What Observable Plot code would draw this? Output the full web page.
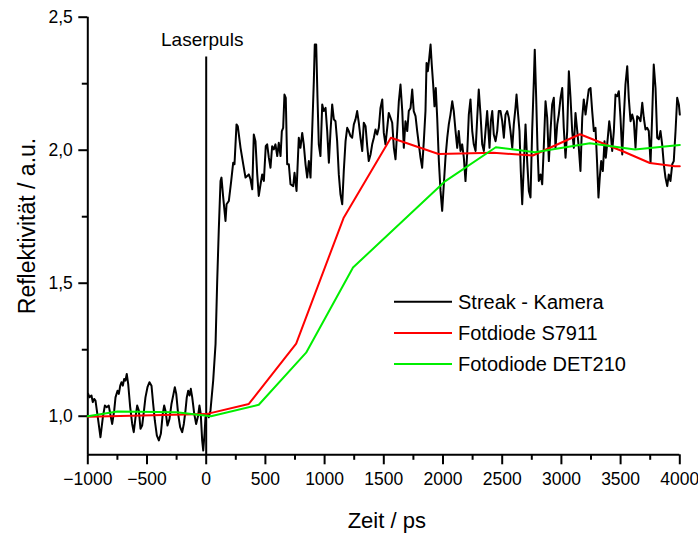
<!DOCTYPE html>
<html><head><meta charset="utf-8">
<script src="https://cdn.jsdelivr.net/npm/d3@7"></script>
<script src="https://cdn.jsdelivr.net/npm/@observablehq/plot@0.6"></script>
<style>body{margin:0;background:#fff}</style>
</head><body><div id="chart"></div>
<script>
// ---- data ----
const streakTime = [-997,-986,-969,-958,-946,-935,-912,-893,-873,-856,-840,-823,-808,-794,-777,-766,-749,-738,-726,-715,-704,-693,-682,-671,-659,-642,-625,-612,-597,-583,-569,-555,-541,-527,-513,-496,-479,-462,-448,-434,-417,-400,-383,-367,-355,-344,-327,-310,-293,-276,-265,-253,-237,-220,-203,-189,-175,-164,-152,-141,-130,-118,-101,-85,-68,-57,-46,-34,-25,-14,-6,
8,22,36,59,79,93,106,121,129,144,163,172,191,211,228,239,256,267,290,313,332,360,374,389,402,416,431,444,459,473,487,503,515,529,543,557,571,585,600,613,628,639,650,661,672,684,698,712,735,746,763,782,796,811,824,839,853,867,881,895,909,917,929,940,951,965,980,993,
1008,1022,1036,1050,1064,1078,1092,1106,1120,1134,1149,1162,1177,1191,1204,1219,1233,1247,1261,1275,1289,1303,1318,1331,1346,1360,1373,1388,1402,1416,1430,1444,1458,1472,1487,1500,1514,1529,1542,1557,1571,1585,1599,1613,1627,1641,1656,1669,1683,1698,1711,1726,1740,1753,1768,1782,1796,1810,1824,1838,1852,1861,1872,1884,1895,1905,1917,1928,1939,1951,1965,1979,1993,
2007,2021,2036,2049,2063,2078,2091,2106,2120,2133,2148,2162,2176,2190,2204,2218,2232,2247,2260,2275,2289,2302,2317,2331,2345,2359,2373,2393,2404,2416,2429,2444,2458,2471,2486,2500,2514,2528,2542,2556,2570,2585,2598,2612,2621,2632,2646,2657,2669,2683,2697,2711,2725,2739,2753,2767,2775,2787,2798,2809,2824,2838,2851,2866,2880,2894,2908,2922,2936,2950,2965,2978,2993,
3007,3020,3035,3049,3063,3077,3091,3105,3119,3134,3147,3161,3176,3189,3204,3218,3231,3246,3260,3274,3288,3302,3313,3324,3336,3350,3364,3375,3392,3404,3415,3429,3443,3457,3471,3485,3499,3514,3527,3541,3556,3569,3584,3598,3612,3626,3640,3654,3668,3683,3696,3710,3725,3738,3753,3767,3780,3795,3809,3823,3837,3851,3865,3879,3894,3907,3921,3936,3949,3964,3978,3992,4000];
const streakValue = [1.084,1.071,1.078,1.053,1.065,1.059,0.984,0.921,0.996,1.040,1.034,1.040,1.003,0.971,1.021,1.071,1.096,1.084,1.115,1.128,1.115,1.140,1.134,1.159,1.122,1.034,0.971,0.940,0.996,1.040,1.021,0.953,0.965,1.015,1.071,1.109,1.128,1.115,1.047,0.984,0.928,0.909,0.934,1.009,1.040,1.021,0.965,0.990,1.047,1.084,1.109,1.084,1.009,0.959,0.940,0.971,1.021,1.071,1.096,1.078,1.103,1.071,1.009,0.971,1.003,1.040,1.009,0.909,0.871,0.934,0.996,
1.009,0.996,1.021,1.134,1.272,1.509,1.697,1.884,1.897,1.821,1.734,1.797,1.809,1.884,1.953,1.947,2.097,2.090,2.009,1.947,1.897,1.909,1.891,1.853,2.059,2.034,1.909,1.828,1.872,1.909,1.884,2.015,2.022,1.972,1.934,2.015,2.003,2.022,1.978,2.028,1.978,2.072,2.084,2.209,2.197,1.947,1.947,1.872,1.865,1.915,1.847,2.047,2.009,2.065,2.022,1.947,1.897,1.959,1.897,2.072,2.259,2.397,2.397,2.197,2.022,1.978,2.172,2.147,
2.159,2.072,1.953,2.072,2.172,2.116,2.109,2.034,1.909,1.834,1.797,1.922,2.034,2.084,2.072,2.053,2.047,2.097,2.116,2.147,2.103,2.047,1.997,2.103,2.090,2.015,1.959,1.984,2.022,2.047,2.078,2.059,2.084,2.159,2.191,2.065,2.022,2.084,2.140,2.122,2.103,2.009,1.966,2.072,2.184,2.247,2.147,2.009,2.109,2.072,2.147,2.159,2.228,2.147,2.128,2.072,2.022,1.972,1.934,2.034,2.147,2.328,2.297,2.347,2.397,2.322,2.247,2.165,2.234,2.122,1.959,1.847,1.772,
1.872,1.972,2.047,2.097,2.134,2.184,2.147,2.072,2.009,2.072,1.997,2.022,1.972,1.884,1.984,2.134,2.191,2.072,2.022,1.997,2.122,2.228,2.134,2.022,1.997,2.072,2.147,2.009,2.109,2.147,2.059,2.034,2.072,2.147,2.147,2.109,2.047,2.134,2.147,2.122,2.072,2.009,2.097,2.159,2.209,2.147,2.072,1.922,1.797,1.947,2.097,1.959,1.847,1.822,2.072,2.259,2.378,2.197,2.009,1.884,1.909,1.872,2.009,2.184,2.122,1.959,2.072,2.172,2.197,2.009,2.097,2.134,2.197,
2.234,2.084,1.972,2.072,2.297,2.197,2.072,2.009,2.140,2.072,2.009,1.922,2.122,2.191,2.134,2.184,2.228,2.234,2.147,2.072,2.084,1.947,1.822,1.897,1.959,1.922,2.034,1.972,2.047,2.109,2.072,1.997,2.072,2.209,2.203,2.222,2.122,1.984,2.122,2.247,2.316,2.197,2.109,2.134,2.109,2.009,2.128,2.122,2.109,2.178,2.122,2.078,2.084,2.072,1.953,2.134,2.322,2.234,2.047,2.041,2.072,2.022,1.947,1.897,1.865,1.909,1.884,1.947,1.959,2.072,2.197,2.172,2.134];

const s7911Time  = [-1000, 0, 360, 760, 1160, 1560, 1962, 2426, 2758, 3157, 3523, 3747, 3958, 4000];
const s7911Value = [0.998, 1.008, 1.046, 1.273, 1.745, 2.047, 1.986, 1.990, 1.980, 2.060, 1.995, 1.952, 1.940, 1.940];

const det210Time  = [-1000, -750, -250, 40, 444, 844, 1240, 2020, 2446, 2777, 3241, 3621, 4000];
const det210Value = [1.000, 1.018, 1.015, 1.000, 1.043, 1.239, 1.559, 1.884, 2.011, 1.992, 2.026, 2.003, 2.020];

const laserTime = [0];
const laserTop = 2.35;
const laserLabel = "Laserpuls";

const seriesNames = ["Streak - Kamera", "Fotdiode S7911", "Fotodiode DET210"];
const seriesColors = ["#000000", "#ff0000", "#00ee00"];

const xDomain = [-1000, 4000];
const yDomain = [0.855, 2.5];
const xTicks = [-1000, -500, 0, 500, 1000, 1500, 2000, 2500, 3000, 3500, 4000];
const xMinorTicks = [-750, -250, 250, 750, 1250, 1750, 2250, 2750, 3250, 3750];
const yTicks = [1.0, 1.5, 2.0, 2.5];
const yMinorTicks = [1.25, 1.75, 2.25];
const xTitle = "Zeit / ps";
const yTitle = "Reflektivität / a.u.";

// ---- tables ----
const streak = streakTime.map((t, i) => ({t, v: streakValue[i]}));
const s7911 = s7911Time.map((t, i) => ({t, v: s7911Value[i]}));
const det210 = det210Time.map((t, i) => ({t, v: det210Value[i]}));

const fmtY = d => d.toFixed(1).replace(".", ",");
const font = "'Liberation Sans', Arial, sans-serif";

const svg = Plot.plot({
  width: 698, height: 536,
  marginLeft: 87.3, marginRight: 18.7, marginTop: 16.7, marginBottom: 81.7,
  style: {fontFamily: font, color: "black", background: "white", overflow: "visible"},
  x: {domain: xDomain},
  y: {domain: yDomain},
  marks: [
    Plot.axisX(xTicks, {tickSize: 10, tickPadding: 8, fontSize: 17.5, strokeWidth: 2, label: null, tickFormat: d => d3.format("")(d).replace("-", "\u2212")}),
    Plot.axisX(xMinorTicks, {tickSize: 5.5, strokeWidth: 2, label: null, tickFormat: () => ""}),
    Plot.axisY(yTicks, {tickSize: 9, tickPadding: 6, fontSize: 17.5, strokeWidth: 2, label: null, tickFormat: fmtY}),
    Plot.axisY(yMinorTicks, {tickSize: 5.5, strokeWidth: 2, label: null, tickFormat: () => ""}),
    Plot.ruleX([xDomain[0]], {stroke: "black", strokeWidth: 2}),
    Plot.ruleY([yDomain[0]], {stroke: "black", strokeWidth: 2}),
    Plot.ruleX(laserTime, {y1: laserTop, y2: yDomain[0], stroke: "black", strokeWidth: 2}),
    Plot.line(streak, {x: "t", y: "v", stroke: seriesColors[0], strokeWidth: 2}),
    Plot.line(s7911, {x: "t", y: "v", stroke: seriesColors[1], strokeWidth: 2}),
    Plot.line(det210, {x: "t", y: "v", stroke: seriesColors[2], strokeWidth: 2}),
    Plot.text([laserLabel], {x: laserTime, text: d => d, frameAnchor: "top", lineAnchor: "bottom", dy: 29, dx: -4, fontSize: 19, fill: "black"}),
    Plot.text([xTitle], {text: d => d, frameAnchor: "bottom", textAnchor: "middle", lineAnchor: "bottom", dy: 73.5, dx: 3, fontSize: 22, fill: "black"}),
    Plot.text([yTitle], {text: d => d, frameAnchor: "left", textAnchor: "middle", rotate: -90, dx: -60, dy: -10, fontSize: 23, fill: "black"})
  ]
});

// legend
const leg = d3.select(svg).append("g").attr("font-family", font).attr("font-size", 20).attr("text-anchor", "start");
seriesNames.forEach((name, i) => {
  const y = 301.7 + i * 31.2;
  leg.append("line").attr("x1", 394).attr("x2", 452).attr("y1", y).attr("y2", y)
    .attr("stroke", seriesColors[i]).attr("stroke-width", 2);
  leg.append("text").attr("x", 458).attr("y", y).attr("dy", "0.36em").attr("fill", "black").attr("text-anchor", "start").text(name);
});

document.getElementById("chart").appendChild(svg);
</script>
</body></html>
